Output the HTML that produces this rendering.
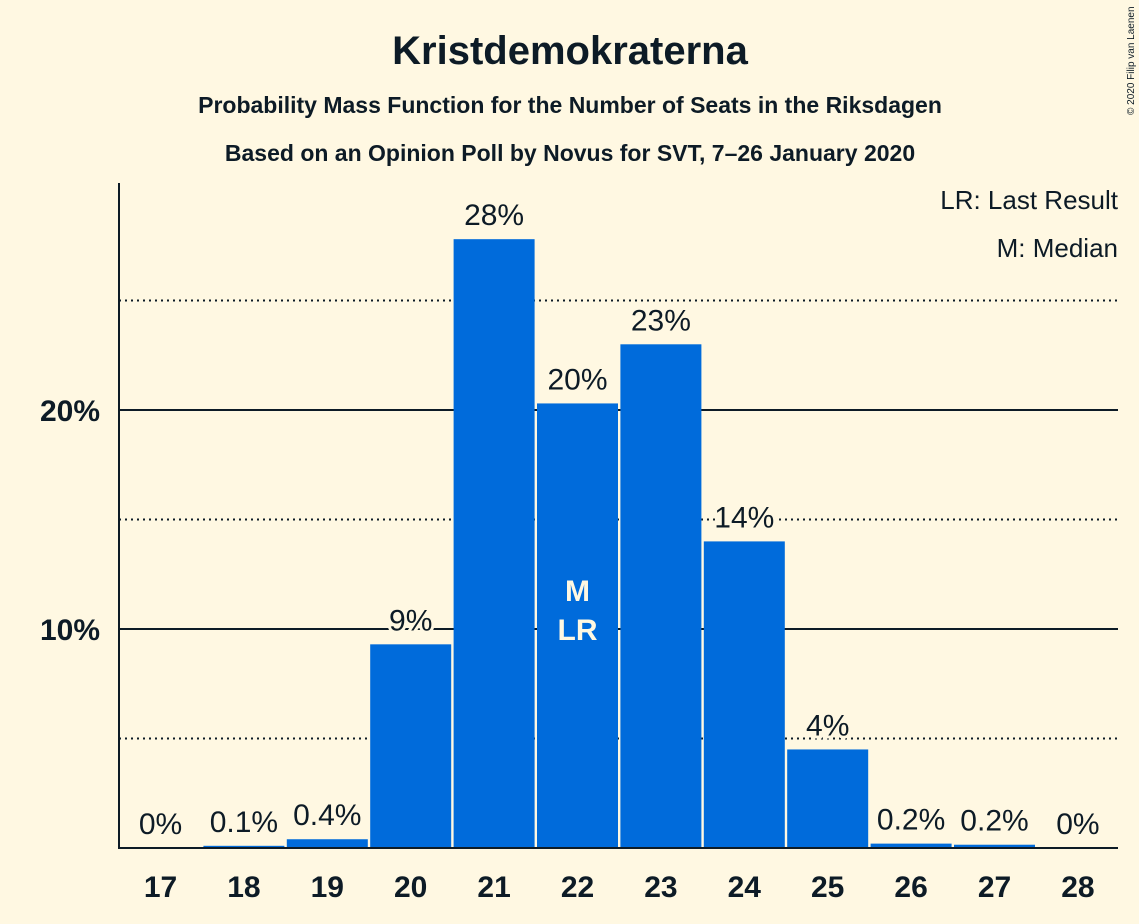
<!DOCTYPE html>
<html><head><meta charset="utf-8"><style>
html,body{margin:0;padding:0;background:#fff8e2;}
svg{display:block;font-family:"Liberation Sans",sans-serif;}
</style></head><body>
<svg id="chart" width="1139" height="924">
<rect width="1139" height="924" fill="#fff8e2"/>
<text x="570" y="64" text-anchor="middle" font-size="40" font-weight="bold" fill="#0d1b26">Kristdemokraterna</text>
<text x="570" y="113" text-anchor="middle" font-size="23" font-weight="bold" fill="#0d1b26">Probability Mass Function for the Number of Seats in the Riksdagen</text>
<text x="570" y="161" text-anchor="middle" font-size="23" font-weight="bold" fill="#0d1b26">Based on an Opinion Poll by Novus for SVT, 7–26 January 2020</text>
<text transform="translate(1134,115) rotate(-90)" font-size="10" fill="#0d1b26">© 2020 Filip van Laenen</text>
<g id="grid"></g><g id="bars"></g><g id="labels"></g>
<line x1="119" y1="183" x2="119" y2="848" stroke="#0d1b26" stroke-width="2"/>
<line x1="118" y1="848" x2="1118" y2="848" stroke="#0d1b26" stroke-width="2"/>
<text x="1118" y="209" text-anchor="end" font-size="26" fill="#0d1b26">LR: Last Result</text>
<text x="1118" y="257" text-anchor="end" font-size="26" fill="#0d1b26">M: Median</text>
</svg>
<script>
const seats=[17,18,19,20,21,22,23,24,25,26,27,28];
const probs=[0,0.1,0.4,9.3,27.8,20.3,23.0,14.0,4.5,0.2,0.15,0];
const valueLabels=["0%","0.1%","0.4%","9%","28%","20%","23%","14%","4%","0.2%","0.2%","0%"];
const yTicks=[10,20];
const yTickLabels=["10%","20%"];
const dottedTicks=[5,15,25];
const medianSeat=22, lastResultSeat=22;
const NS="http://www.w3.org/2000/svg";
const y=v=>848-v*21.9;
const xc=i=>160.5+i*83.4;
function mk(t,a,p){const e=document.createElementNS(NS,t);for(const k in a)e.setAttribute(k,a[k]);p.appendChild(e);return e;}
const grid=document.getElementById('grid'),bars=document.getElementById('bars'),labels=document.getElementById('labels');
dottedTicks.forEach(v=>{const l=mk('line',{x1:119,x2:1118,y1:y(v),y2:y(v),stroke:'#0d1b26','stroke-width':2,'stroke-dasharray':'2,4'},grid);

});
yTicks.forEach((v,i)=>{const l=mk('line',{x1:119,x2:1118,y1:y(v),y2:y(v),stroke:'#0d1b26','stroke-width':2},grid);


const t=mk('text',{x:100,y:y(v)+11,'text-anchor':'end','font-size':30,'font-weight':'bold',fill:'#0d1b26'},labels);t.textContent=yTickLabels[i];

});
seats.forEach((s,i)=>{
 if(probs[i]>0){const r=mk('rect',{x:xc(i)-40.5,y:y(probs[i]),width:81,height:848-y(probs[i]),fill:'#006bdb'},bars);
 
 }
 const t=mk('text',{x:xc(i),y:y(probs[i])-14,'text-anchor':'middle','font-size':30,fill:'#0d1b26',stroke:'#fff8e2','stroke-width':6,'paint-order':'stroke'},labels);t.textContent=valueLabels[i];
 
 
 const xt=mk('text',{x:xc(i),y:897,'text-anchor':'middle','font-size':30,'font-weight':'bold',fill:'#0d1b26'},labels);xt.textContent=s;
 
 
 if(s===medianSeat){const m=mk('text',{x:xc(i),y:601,'text-anchor':'middle','font-size':30,'font-weight':'bold',fill:'#fff8e2'},labels);m.textContent='M';
 
 }
 if(s===lastResultSeat){const m=mk('text',{x:xc(i),y:640,'text-anchor':'middle','font-size':30,'font-weight':'bold',fill:'#fff8e2'},labels);m.textContent='LR';
 
 }
});
</script>
</body></html>
